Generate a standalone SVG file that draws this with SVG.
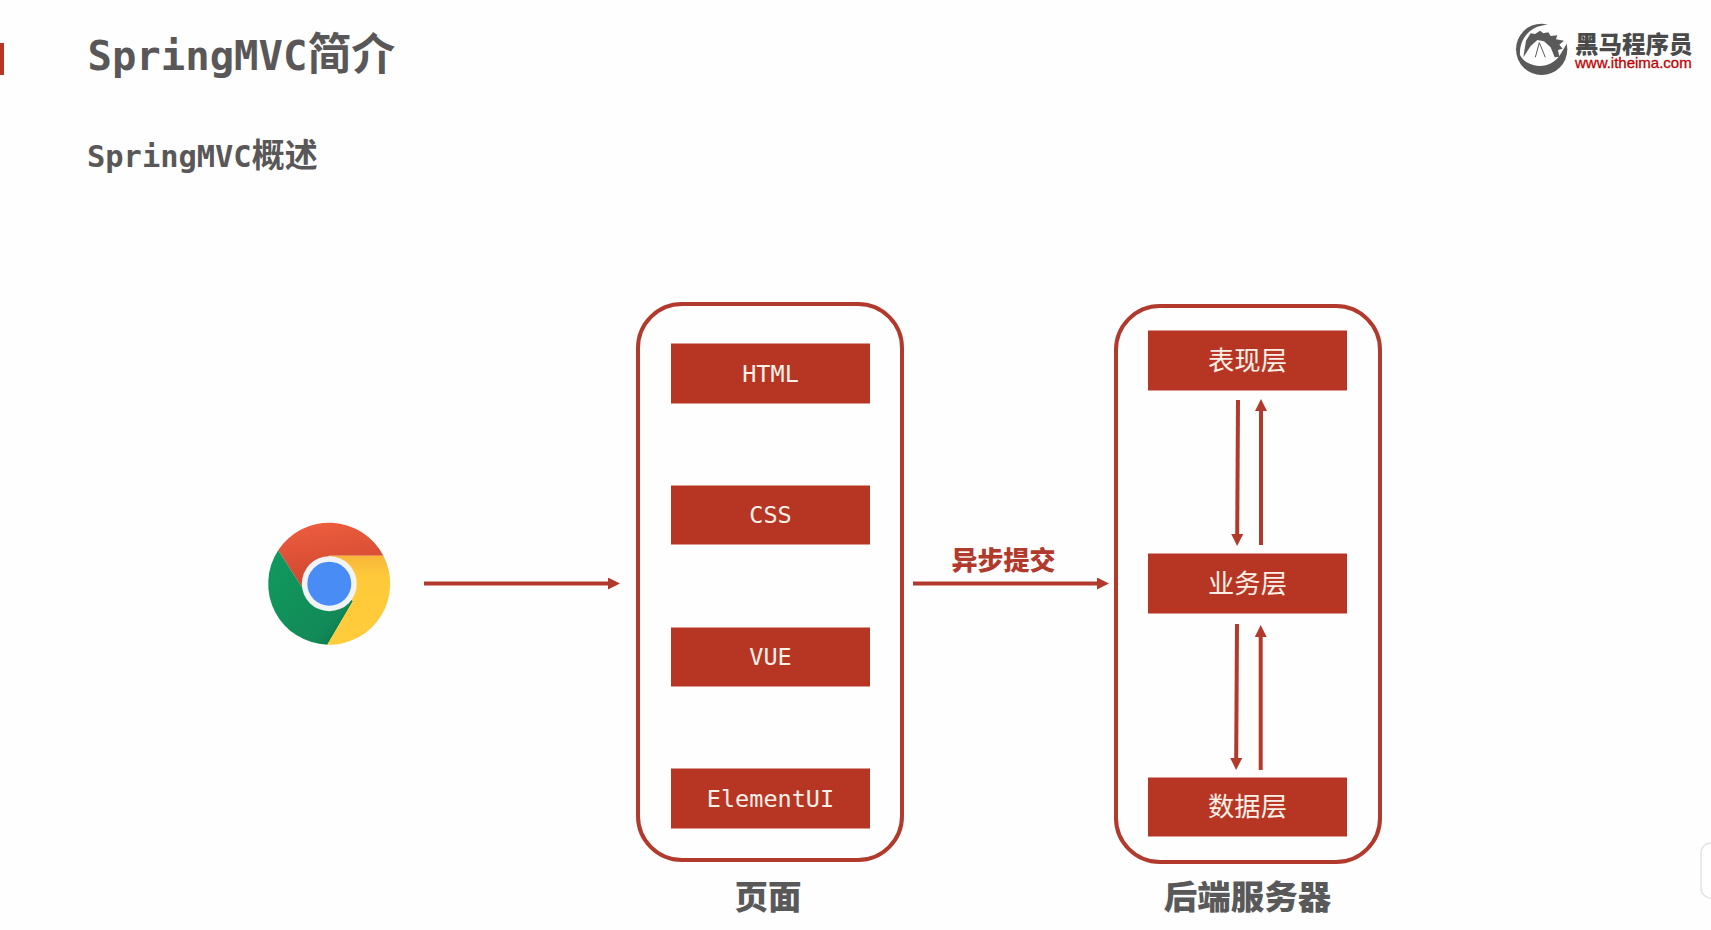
<svg xmlns="http://www.w3.org/2000/svg" width="1711" height="930" viewBox="0 0 1711 930">
  <style>
    .mono { font-family: "DejaVu Sans Mono", "Noto Sans CJK SC", monospace; }
    .cjk { font-family: "Noto Sans CJK SC", "Liberation Sans", sans-serif; }
    .head { fill: #595757; font-weight: 700; }
    .box { fill: #B73623; }
    .frame { fill: none; stroke: #B13A2C; stroke-width: 4; }
    .lbl { fill: #FBF0E8; text-anchor: middle; }
    .m { font-size: 23.5px; }
    .c { font-size: 26.3px; }
    .cap { fill: #595959; font-size: 33.5px; font-weight: 900; text-anchor: middle; }
    .conn { stroke: #B13A2C; stroke-width: 4; fill: none; marker-end: url(#arrow); }
  </style>
  <defs>
    <marker id="arrow" markerUnits="userSpaceOnUse" markerWidth="13" markerHeight="13" refX="1" refY="6" orient="auto">
      <path d="M0 0 L12 6 L0 12 Z" fill="#B13A2C"/>
    </marker>
    <linearGradient id="chromeRed" x1="0" y1="0" x2="0.2" y2="1">
      <stop offset="0" stop-color="#EF5F3F"/><stop offset="1" stop-color="#CF4630"/>
    </linearGradient>
    <linearGradient id="chromeGreen" x1="0" y1="0" x2="1" y2="1">
      <stop offset="0" stop-color="#109A5F"/><stop offset="0.75" stop-color="#128A57"/><stop offset="1" stop-color="#0B6B43"/>
    </linearGradient>
    <linearGradient id="chromeYellow" x1="0" y1="0" x2="0" y2="1">
      <stop offset="0" stop-color="#F8B63A"/><stop offset="0.25" stop-color="#FFCA3A"/><stop offset="1" stop-color="#FFCC3C"/>
    </linearGradient>
  </defs>

  <rect width="1711" height="930" fill="#FEFEFE"/>

  <g id="slide-mark"><rect x="0" y="43" width="4" height="32" fill="#B73623"/></g>
  <g id="title">
    <text class="mono head" x="87.5" y="69.5" font-size="40.6">SpringMVC<tspan class="cjk" font-size="44">简介</tspan></text>
  </g>
  <g id="subtitle">
    <text class="mono head" x="87" y="166.5" font-size="30.4">SpringMVC<tspan class="cjk" font-size="33">概述</tspan></text>
  </g>

  <g id="logo">
    <g transform="translate(1480 0) scale(0.3333)">
      <circle cx="185" cy="148" r="77" fill="#5A5A5A"/>
      <path d="M120 165 C118 125 140 92 172 80 L215 70 L270 100 L262 128 L240 165 C225 190 190 205 160 195 C140 190 128 180 120 165 Z" fill="#FEFEFE"/>
      <path d="M138 122 L152 100 L165 102 L180 92 L190 100 L205 97 L212 108 L232 106 L228 118 L252 122 L238 134 L248 146 L234 150 L238 170 L224 172 L212 142 L192 124 L172 120 L152 138 L130 172 Z" fill="#5A5A5A"/>
      <path d="M178 128 L166 172 M178 128 L196 172" stroke="#5A5A5A" stroke-width="3" fill="none"/>
    </g>
    <text class="cjk" x="1575" y="53" font-size="23.5" font-weight="900" fill="#4A4A4A">黑马程序员</text>
    <text x="1575" y="68" font-family="Liberation Sans, sans-serif" font-size="15" fill="#C00000" stroke="#C00000" stroke-width="0.3">www.itheima.com</text>
  </g>

  <g id="chrome">
    <path d="M278.2 550.3 A61 61 0 0 1 383.4 555.7 L329 555.7 L301.7 586.7 Z" fill="url(#chromeRed)"/>
    <path d="M278.2 550.3 A61 61 0 0 0 327.3 644.7 L353 601 L329 584 L301.7 586.7 Z" fill="url(#chromeGreen)"/>
    <path d="M383.4 555.7 A61 61 0 0 1 327.3 644.7 L353 601 L329 584 L329 555.7 Z" fill="url(#chromeYellow)"/>
    <circle cx="329.3" cy="583.7" r="27.5" fill="#F1F3F4"/>
    <circle cx="329.3" cy="583.7" r="22" fill="#4A8CF6"/>
  </g>

  <g id="pages">
    <rect class="frame" x="638" y="304" width="264" height="556" rx="44"/>
    <text class="cjk cap" x="768" y="908.5">页面</text>
  </g>
  <g id="html">
    <rect class="box" x="671" y="343.5" width="199" height="60"/>
    <text class="mono lbl m" x="770.5" y="381.5">HTML</text>
  </g>
  <g id="css">
    <rect class="box" x="671" y="485.5" width="199" height="59"/>
    <text class="mono lbl m" x="770.5" y="523">CSS</text>
  </g>
  <g id="vue">
    <rect class="box" x="671" y="627.5" width="199" height="59"/>
    <text class="mono lbl m" x="770.5" y="665">VUE</text>
  </g>
  <g id="elementui">
    <rect class="box" x="671" y="768.5" width="199" height="60"/>
    <text class="mono lbl m" x="770.5" y="807">ElementUI</text>
  </g>

  <g id="backend">
    <rect class="frame" x="1116" y="306" width="264" height="556" rx="44"/>
    <text class="cjk cap" x="1247.5" y="908.5">后端服务器</text>
  </g>
  <g id="presentation">
    <rect class="box" x="1148" y="330.5" width="199" height="60"/>
    <text class="cjk lbl c" x="1247.5" y="370">表现层</text>
  </g>
  <g id="service">
    <rect class="box" x="1148" y="553.5" width="199" height="60"/>
    <text class="cjk lbl c" x="1247.5" y="593">业务层</text>
  </g>
  <g id="data">
    <rect class="box" x="1148" y="777.5" width="199" height="59"/>
    <text class="cjk lbl c" x="1247.5" y="816">数据层</text>
  </g>

  <g id="connectors">
    <line class="conn" x1="424" y1="583.5" x2="609" y2="583.5"/>
    <line class="conn" x1="913" y1="583.5" x2="1098" y2="583.5"/>
    <line class="conn" x1="1238" y1="400" x2="1237.2" y2="535"/>
    <line class="conn" x1="1261" y1="545" x2="1261" y2="410"/>
    <line class="conn" x1="1237" y1="624" x2="1236.2" y2="759"/>
    <line class="conn" x1="1260.7" y1="770" x2="1260.7" y2="636"/>
  </g>
  <g id="connector-label">
    <text class="cjk" x="1003.5" y="570" font-size="26" font-weight="900" fill="#B13A2C" text-anchor="middle">异步提交</text>
  </g>

  <g id="side-tab">
    <rect x="1701" y="843" width="30" height="55" rx="10" fill="#FFFFFF" stroke="#E4E4E4" stroke-width="1.5"/>
  </g>
</svg>
